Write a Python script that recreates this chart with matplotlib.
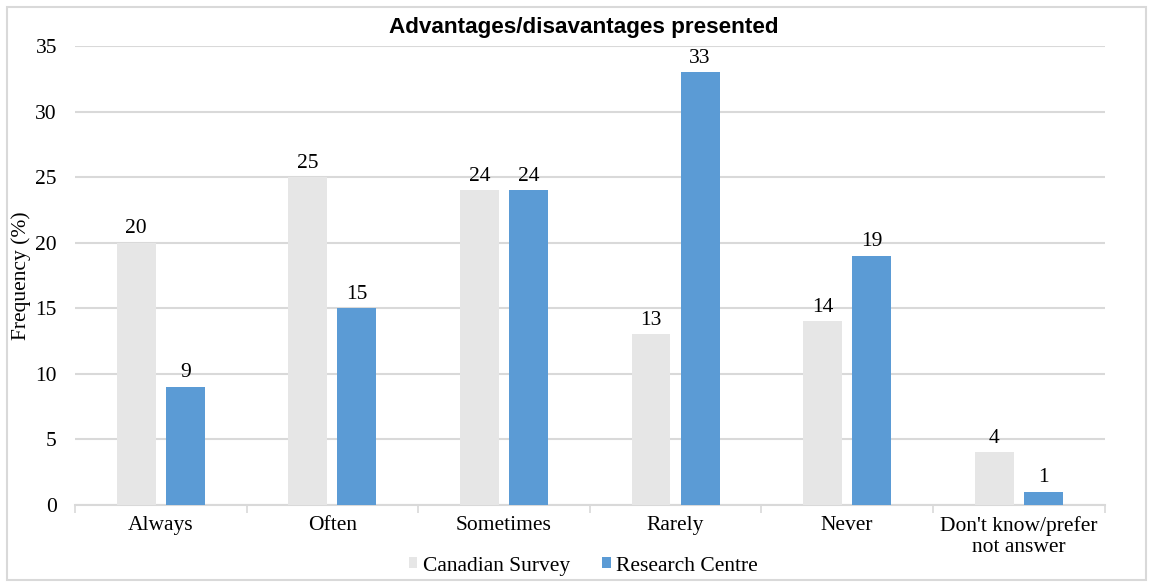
import numpy as np
import matplotlib.pyplot as plt
from matplotlib.patches import Rectangle

categories = ["Always", "Often", "Sometimes", "Rarely", "Never",
              "Don't know/prefer\nnot answer"]
canadian_survey = [20, 25, 24, 13, 14, 4]
research_centre = [9, 15, 24, 33, 19, 1]
series_names = ["Canadian Survey", "Research Centre"]
y_ticks = [0, 5, 10, 15, 20, 25, 30, 35]

GRAY = "#e6e6e6"
BLUE = "#5b9bd5"
GRID = "#d9d9d9"
SERIF = "Liberation Serif"
FS = 15.5

fig = plt.figure(figsize=(11.53, 5.83), dpi=100)
ax = fig.add_axes([0.065, 0.134, 0.893, 0.787])

x = np.arange(len(categories))
width = 0.227
off = 0.143
b1 = ax.bar(x - off, canadian_survey, width, color=GRAY, label=series_names[0], zorder=3)
b2 = ax.bar(x + off, research_centre, width, color=BLUE, label=series_names[1], zorder=3)

for bars, vals in ((b1, canadian_survey), (b2, research_centre)):
    for rect, v in zip(bars, vals):
        ax.text(rect.get_x() + rect.get_width() / 2, v + 0.35, str(v),
                ha="center", va="bottom", fontsize=FS, family=SERIF)

ax.set_xlim(-0.5, len(categories) - 0.5)
ax.set_ylim(0, 35)
ax.set_yticks(y_ticks)
ax.set_yticklabels([str(t) for t in y_ticks], family=SERIF, fontsize=FS)
ax.set_xticks(x)
ax.set_xticklabels(categories, family=SERIF, fontsize=FS, linespacing=1.15)
ax.tick_params(axis="x", length=0, pad=8)
ax.tick_params(axis="y", length=0, pad=13)

# category separators below the axis
ax.set_xticks(np.arange(-0.5, len(categories)), minor=True)
ax.tick_params(axis="x", which="minor", length=6, color=GRID, width=1.2)

ax.grid(axis="y", color=GRID, linewidth=1.5, zorder=0)
for s in ("top", "right", "left"):
    ax.spines[s].set_visible(False)
ax.spines["bottom"].set_color(GRID)
ax.spines["bottom"].set_linewidth(1.5)

ax.set_ylabel("Frequency (%)", family=SERIF, fontsize=15.5, va="center")
ax.yaxis.set_label_coords(-0.052, 0.5)
fig.text(0.506, 0.953, "Advantages/disavantages presented", ha="center", va="center",
         fontsize=16.2, fontweight="bold", family="Liberation Sans")

leg = fig.legend(handles=[b1, b2], labels=series_names, loc="center",
                 bbox_to_anchor=(0.506, 0.029), ncol=2, frameon=False,
                 prop={"family": SERIF, "size": FS}, handlelength=0.4,
                 handleheight=0.4, handletextpad=0.25, columnspacing=1.5)

fig.add_artist(Rectangle((0.006, 0.006), 0.988, 0.982, transform=fig.transFigure,
                         fill=False, edgecolor=GRID, linewidth=1.5))

fig.savefig("out.png", dpi=100)
